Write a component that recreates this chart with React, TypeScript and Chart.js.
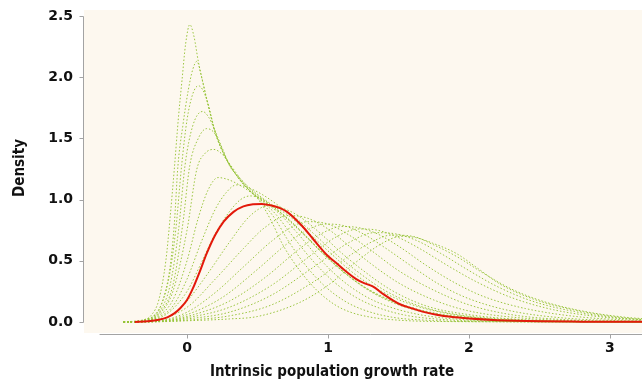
import React, { useEffect, useRef } from 'react';
import { Chart, registerables } from 'chart.js';

Chart.register(...registerables);

type P = [number, number];

const X_TICKS = [0, 1, 2, 3];
const Y_TICKS = [0, 0.5, 1.0, 1.5, 2.0, 2.5];
const X_LABEL = 'Intrinsic population growth rate';
const Y_LABEL = 'Density';

// pooled density (red, solid)
const pooledDensity: P[] = [
  [-0.37, 0], [-0.28, 0.006], [-0.2, 0.018], [-0.14, 0.038], [-0.09, 0.07], [-0.05, 0.11], [0, 0.18],
  [0.04, 0.27], [0.09, 0.41], [0.14, 0.56], [0.2, 0.71], [0.26, 0.82], [0.33, 0.9], [0.4, 0.945],
  [0.47, 0.962], [0.53, 0.965], [0.6, 0.952], [0.66, 0.93], [0.71, 0.9], [0.76, 0.85], [0.82, 0.78],
  [0.9, 0.67], [0.99, 0.55], [1.05, 0.49], [1.1, 0.44], [1.2, 0.35], [1.26, 0.315], [1.32, 0.29],
  [1.39, 0.23], [1.51, 0.145], [1.6, 0.11], [1.67, 0.085], [1.77, 0.06], [1.87, 0.042], [2.0, 0.028],
  [2.2, 0.015], [2.5, 0.006], [2.8, 0.003], [3.3, 0.001],
];

// individual run densities (green, dotted)
const run01: P[] = [
  [-0.45, 0], [-0.33, 0.01], [-0.25, 0.06], [-0.2, 0.18], [-0.15, 0.5], [-0.12, 0.85], [-0.09, 1.25],
  [-0.06, 1.68], [-0.035, 1.98], [-0.01, 2.27], [0.02, 2.43], [0.05, 2.33], [0.08, 2.13], [0.14, 1.82],
  [0.2, 1.55], [0.27, 1.35], [0.35, 1.2], [0.43, 1.09], [0.52, 0.98], [0.6, 0.82], [0.68, 0.63],
  [0.8, 0.42], [0.92, 0.26], [1.05, 0.14], [1.16, 0.08], [1.3, 0.04], [1.5, 0.015], [1.8, 0.004], [3.3, 0],
];
const run02: P[] = [
  [-0.45, 0], [-0.32, 0.01], [-0.25, 0.04], [-0.18, 0.15], [-0.12, 0.45], [-0.09, 0.8], [-0.064, 1.28],
  [-0.03, 1.6], [0.01, 1.9], [0.04, 2.06], [0.07, 2.13], [0.1, 2.02], [0.14, 1.82], [0.2, 1.55],
  [0.27, 1.35], [0.35, 1.2], [0.43, 1.09], [0.52, 0.99], [0.62, 0.85], [0.72, 0.66], [0.85, 0.45],
  [0.98, 0.29], [1.12, 0.17], [1.25, 0.1], [1.45, 0.04], [1.75, 0.012], [2.2, 0.002], [3.3, 0],
];
const run03: P[] = [
  [-0.45, 0], [-0.3, 0.02], [-0.2, 0.1], [-0.13, 0.35], [-0.08, 0.75], [-0.038, 1.28], [0.0, 1.65],
  [0.04, 1.86], [0.08, 1.93], [0.11, 1.9], [0.15, 1.78], [0.2, 1.55], [0.27, 1.35], [0.35, 1.2],
  [0.43, 1.09], [0.52, 1.0], [0.63, 0.88], [0.75, 0.7], [0.9, 0.49], [1.05, 0.32], [1.2, 0.2],
  [1.35, 0.12], [1.55, 0.055], [1.85, 0.018], [2.3, 0.003], [3.3, 0],
];
const run04: P[] = [
  [-0.45, 0], [-0.3, 0.02], [-0.2, 0.08], [-0.12, 0.3], [-0.06, 0.75], [-0.014, 1.28], [0.04, 1.6],
  [0.11, 1.72], [0.15, 1.68], [0.2, 1.56], [0.27, 1.36], [0.35, 1.2], [0.43, 1.09], [0.55, 0.98],
  [0.66, 0.88], [0.78, 0.73], [0.93, 0.53], [1.08, 0.36], [1.25, 0.22], [1.42, 0.13], [1.65, 0.06],
  [1.95, 0.02], [2.4, 0.004], [3.3, 0],
];
const run05: P[] = [
  [-0.45, 0], [-0.3, 0.015], [-0.2, 0.07], [-0.1, 0.3], [-0.03, 0.8], [0.02, 1.28], [0.08, 1.5],
  [0.14, 1.58], [0.19, 1.55], [0.25, 1.42], [0.3, 1.28], [0.37, 1.18], [0.45, 1.08], [0.58, 0.97],
  [0.7, 0.86], [0.83, 0.72], [0.98, 0.54], [1.14, 0.38], [1.3, 0.25], [1.5, 0.14], [1.75, 0.065],
  [2.05, 0.025], [2.5, 0.005], [3.3, 0],
];
const run06: P[] = [
  [-0.45, 0], [-0.3, 0.012], [-0.2, 0.06], [-0.1, 0.25], [0.0, 0.75], [0.07, 1.25], [0.13, 1.38],
  [0.19, 1.41], [0.25, 1.37], [0.31, 1.28], [0.38, 1.17], [0.46, 1.08], [0.6, 0.96], [0.72, 0.87],
  [0.86, 0.73], [1.02, 0.56], [1.18, 0.4], [1.35, 0.27], [1.55, 0.16], [1.8, 0.08], [2.1, 0.03],
  [2.6, 0.006], [3.3, 0],
];
const run07: P[] = [
  [-0.45, 0], [-0.3, 0.01], [-0.2, 0.05], [-0.1, 0.18], [0, 0.5], [0.08, 0.85], [0.15, 1.08],
  [0.22, 1.18], [0.3, 1.16], [0.4, 1.1], [0.5, 1.02], [0.62, 0.93], [0.75, 0.8], [0.9, 0.63],
  [1.05, 0.47], [1.2, 0.33], [1.4, 0.2], [1.65, 0.1], [1.95, 0.04], [2.4, 0.01], [3.3, 0.001],
];
const run08: P[] = [
  [-0.45, 0], [-0.3, 0.01], [-0.2, 0.04], [-0.1, 0.13], [0, 0.35], [0.1, 0.65], [0.2, 0.92],
  [0.28, 1.06], [0.35, 1.12], [0.45, 1.09], [0.55, 1.03], [0.65, 0.95], [0.77, 0.85], [0.9, 0.72],
  [1.05, 0.56], [1.2, 0.42], [1.4, 0.26], [1.65, 0.13], [1.95, 0.055], [2.4, 0.015], [3.0, 0.002], [3.3, 0],
];
const run09: P[] = [
  [-0.45, 0], [-0.3, 0.01], [-0.15, 0.06], [0, 0.25], [0.1, 0.48], [0.2, 0.72], [0.3, 0.9],
  [0.38, 1.0], [0.45, 1.03], [0.52, 1.01], [0.6, 0.95], [0.7, 0.86], [0.8, 0.75], [0.95, 0.58],
  [1.1, 0.42], [1.25, 0.29], [1.45, 0.17], [1.7, 0.08], [2.0, 0.035], [2.4, 0.01], [3.3, 0],
];
const run10: P[] = [
  [-0.45, 0], [-0.3, 0.008], [-0.1, 0.06], [0, 0.17], [0.15, 0.4], [0.3, 0.65], [0.45, 0.87],
  [0.58, 0.95], [0.7, 0.92], [0.8, 0.86], [0.95, 0.72], [1.1, 0.56], [1.25, 0.42], [1.45, 0.26],
  [1.7, 0.13], [2.0, 0.06], [2.4, 0.018], [2.8, 0.005], [3.3, 0],
];
const run11: P[] = [
  [-0.45, 0], [-0.25, 0.01], [0, 0.12], [0.2, 0.35], [0.4, 0.6], [0.55, 0.77], [0.72, 0.87],
  [0.85, 0.85], [1.0, 0.76], [1.15, 0.62], [1.3, 0.48], [1.5, 0.32], [1.75, 0.18], [2.0, 0.09],
  [2.4, 0.03], [2.8, 0.008], [3.3, 0.001],
];
const run12: P[] = [
  [-0.45, 0], [-0.2, 0.01], [0, 0.08], [0.2, 0.24], [0.4, 0.45], [0.6, 0.66], [0.75, 0.78],
  [0.86, 0.82], [1.0, 0.8], [1.15, 0.71], [1.3, 0.59], [1.5, 0.42], [1.75, 0.26], [2.0, 0.14],
  [2.3, 0.06], [2.7, 0.018], [3.3, 0.002],
];
const run13: P[] = [
  [-0.45, 0], [-0.2, 0.008], [0, 0.06], [0.25, 0.2], [0.5, 0.43], [0.7, 0.63], [0.85, 0.75],
  [0.98, 0.8], [1.1, 0.79], [1.25, 0.72], [1.4, 0.61], [1.6, 0.45], [1.8, 0.3], [2.0, 0.19],
  [2.3, 0.09], [2.7, 0.03], [3.3, 0.004],
];
const run14: P[] = [
  [-0.45, 0], [-0.2, 0.006], [0, 0.045], [0.3, 0.17], [0.55, 0.36], [0.8, 0.6], [0.95, 0.72],
  [1.1, 0.78], [1.22, 0.77], [1.35, 0.72], [1.5, 0.62], [1.7, 0.46], [1.9, 0.32], [2.1, 0.21],
  [2.4, 0.11], [2.8, 0.04], [3.3, 0.008],
];
const run15: P[] = [
  [-0.45, 0], [-0.2, 0.005], [0, 0.035], [0.3, 0.12], [0.6, 0.3], [0.85, 0.52], [1.05, 0.69],
  [1.22, 0.76], [1.35, 0.75], [1.5, 0.69], [1.65, 0.6], [1.85, 0.46], [2.05, 0.33], [2.3, 0.2],
  [2.6, 0.1], [2.95, 0.04], [3.3, 0.014],
];
const run16: P[] = [
  [-0.45, 0], [-0.2, 0.004], [0, 0.025], [0.3, 0.08], [0.6, 0.22], [0.9, 0.45], [1.15, 0.65],
  [1.33, 0.73], [1.48, 0.72], [1.62, 0.67], [1.8, 0.56], [2.0, 0.42], [2.2, 0.29], [2.45, 0.17],
  [2.75, 0.085], [3.05, 0.035], [3.3, 0.016],
];
const run17: P[] = [
  [-0.45, 0], [-0.2, 0.003], [0, 0.015], [0.3, 0.05], [0.6, 0.14], [0.9, 0.33], [1.15, 0.54],
  [1.32, 0.66], [1.45, 0.71], [1.6, 0.7], [1.75, 0.63], [1.92, 0.53], [2.1, 0.4], [2.3, 0.27],
  [2.55, 0.16], [2.85, 0.08], [3.1, 0.04], [3.3, 0.022],
];
const run18: P[] = [
  [-0.45, 0], [-0.2, 0.002], [0, 0.01], [0.3, 0.025], [0.5, 0.045], [0.8, 0.16], [1.0, 0.3],
  [1.2, 0.49], [1.38, 0.64], [1.52, 0.7], [1.62, 0.69], [1.74, 0.645], [1.91, 0.56], [2.06, 0.44],
  [2.22, 0.31], [2.45, 0.19], [2.7, 0.11], [2.93, 0.06], [3.16, 0.028], [3.3, 0.017],
];

const runs: P[][] = [
  run01, run02, run03, run04, run05, run06, run07, run08, run09,
  run10, run11, run12, run13, run14, run15, run16, run17, run18,
];

const BG = '#fdf8ef';
const SPINE = '#a3a3a3';
const GREEN = 'rgba(150,195,55,0.95)';
const RED = '#e3190b';
const TICK_FONT = { family: "'DejaVu Sans', sans-serif", size: 14, weight: 'bold' as const };
const TITLE_FONT = "bold 15px 'DejaVu Sans Condensed', 'DejaVu Sans', sans-serif";
const X_SPINE_START = -0.62;

const toXY = (pts: P[]) => pts.map(([x, y]) => ({ x, y }));

const decor = {
  id: 'decor',
  beforeDraw(chart: any) {
    const { ctx, chartArea: a } = chart;
    ctx.save();
    ctx.fillStyle = BG;
    ctx.fillRect(a.left, a.top, a.right - a.left, a.bottom - a.top);
    ctx.restore();
  },
  afterDraw(chart: any) {
    const { ctx, chartArea: a, scales } = chart;
    const xs = scales.x;
    const ys = scales.y;
    ctx.save();
    ctx.strokeStyle = SPINE;
    ctx.lineWidth = 1;
    ctx.beginPath();
    const sx = a.left - 0.5;
    ctx.moveTo(sx, Math.round(ys.getPixelForValue(Y_TICKS[0])) + 0.5);
    ctx.lineTo(sx, Math.round(ys.getPixelForValue(Y_TICKS[Y_TICKS.length - 1])) + 0.5);
    for (const t of Y_TICKS) {
      const py = Math.round(ys.getPixelForValue(t)) + 0.5;
      ctx.moveTo(sx - 4, py);
      ctx.lineTo(sx, py);
    }
    const by = a.bottom + 1.5;
    ctx.moveTo(xs.getPixelForValue(X_SPINE_START), by);
    ctx.lineTo(a.right, by);
    for (const t of X_TICKS) {
      const px = Math.round(xs.getPixelForValue(t)) + 0.5;
      ctx.moveTo(px, by);
      ctx.lineTo(px, by + 4);
    }
    ctx.stroke();

    ctx.fillStyle = '#111';
    ctx.font = TITLE_FONT;
    ctx.textBaseline = 'middle';
    ctx.textAlign = 'center';
    ctx.fillText(X_LABEL, 332, 372);
    ctx.translate(20, 168);
    ctx.rotate(-Math.PI / 2);
    ctx.fillText(Y_LABEL, 0, 0);
    ctx.restore();
  },
};

export default function App() {
  const ref = useRef<HTMLCanvasElement | null>(null);

  useEffect(() => {
    document.body.style.margin = '0';
    const canvas = ref.current;
    if (!canvas) return;
    const datasets: any[] = [
      {
        label: 'pooled',
        data: toXY(pooledDensity),
        borderColor: RED,
        borderWidth: 2,
        pointRadius: 0,
        fill: false,
        cubicInterpolationMode: 'monotone',
        order: 0,
      },
      ...runs.map((r, i) => ({
        label: 'run ' + (i + 1),
        data: toXY(r),
        borderColor: GREEN,
        borderWidth: 1,
        borderDash: [1.5, 2],
        pointRadius: 0,
        fill: false,
        cubicInterpolationMode: 'monotone',
        order: 1,
      })),
    ];
    const chart = new Chart(canvas, {
      type: 'line',
      data: { datasets },
      options: {
        animation: false,
        responsive: false,
        devicePixelRatio: 1,
        layout: { autoPadding: false, padding: { top: 10, left: 0, right: 0, bottom: 0 } },
        plugins: { legend: { display: false }, tooltip: { enabled: false } },
        scales: {
          x: {
            type: 'linear',
            min: -0.7305,
            max: 3.227,
            afterBuildTicks: (s: any) => { s.ticks = X_TICKS.map((v) => ({ value: v })); },
            afterFit: (s: any) => { s.height = 52; s.paddingLeft = 0; s.paddingRight = 0; },
            ticks: {
              callback: (v: any) => String(v),
              font: TICK_FONT,
              color: '#111',
              padding: 7,
              maxRotation: 0,
              autoSkip: false,
            },
            grid: { display: false, drawTicks: false },
            border: { display: false },
          },
          y: {
            type: 'linear',
            min: -0.0899,
            max: 2.549,
            afterBuildTicks: (s: any) => { s.ticks = Y_TICKS.map((v) => ({ value: v })); },
            afterFit: (s: any) => { s.width = 84; s.paddingTop = 0; s.paddingBottom = 0; },
            ticks: {
              callback: (v: any) => Number(v).toFixed(1),
              font: TICK_FONT,
              color: '#111',
              padding: 11,
              autoSkip: false,
            },
            grid: { display: false, drawTicks: false },
            border: { display: false },
          },
        },
      } as any,
      plugins: [decor],
    });
    return () => chart.destroy();
  }, []);

  return (
    <div style={{ width: 642, height: 385, background: '#fff' }}>
      <canvas ref={ref} width={642} height={385} style={{ display: 'block' }} />
    </div>
  );
}
